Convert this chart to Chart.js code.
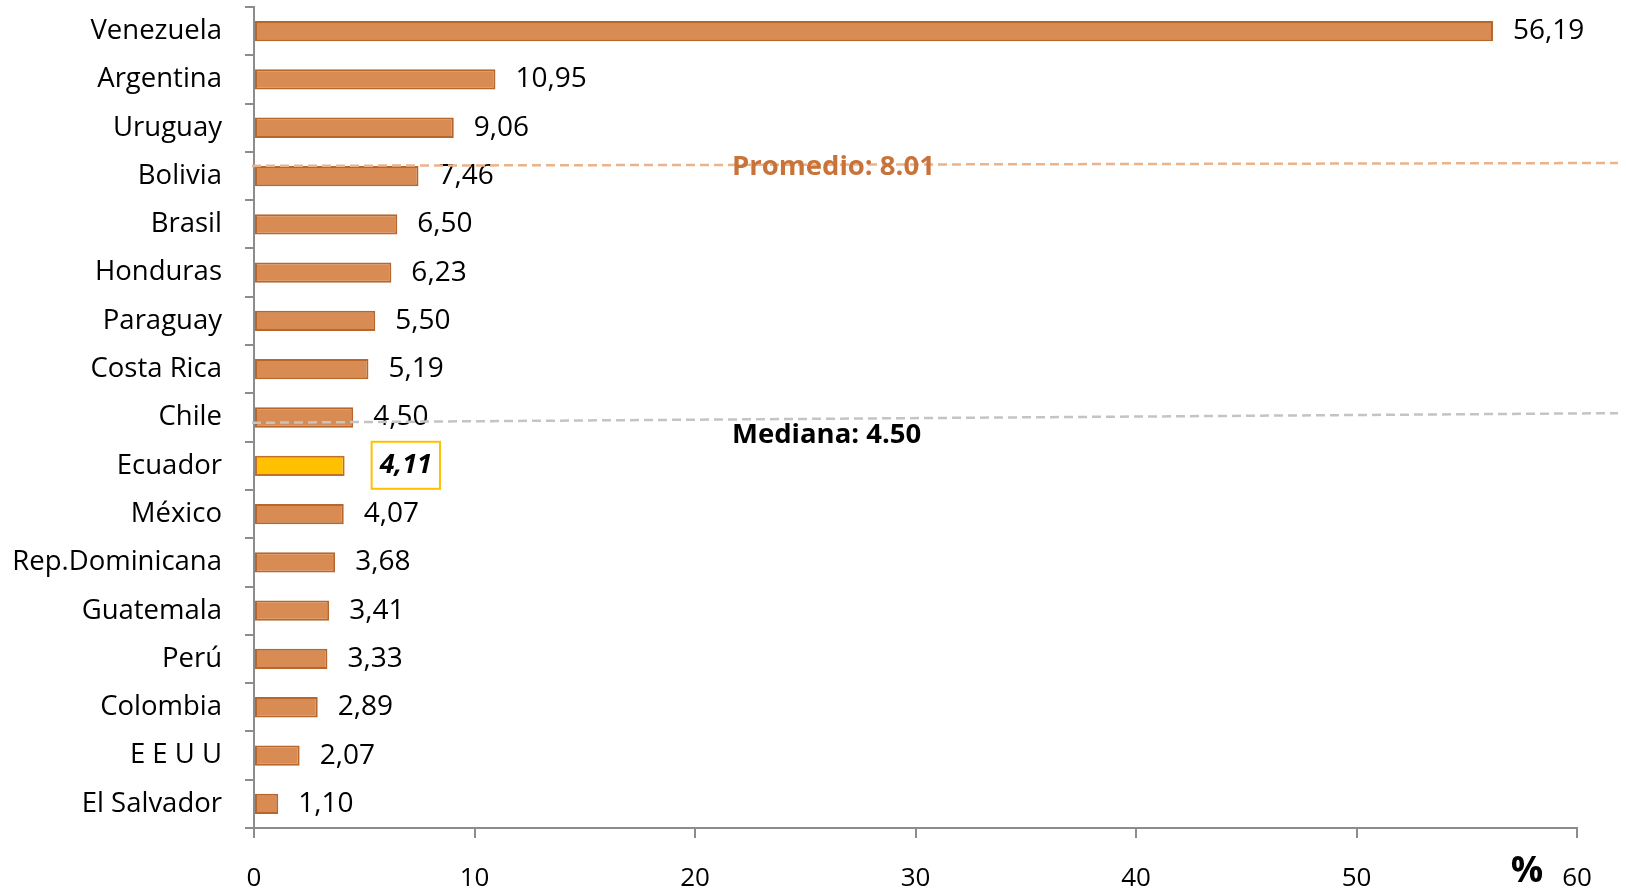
<!DOCTYPE html>
<html>
<head>
<meta charset="utf-8">
<script src="https://cdn.jsdelivr.net/npm/chart.js"></script>
<style>
  html, body { margin: 0; padding: 0; background: #fff; }
  #wrap { width: 1626px; height: 891px; }
</style>
</head>
<body>
<div id="wrap"><canvas id="grafico" width="1626" height="891"></canvas></div>
<script>
const paises = ["Venezuela", "Argentina", "Uruguay", "Bolivia", "Brasil", "Honduras", "Paraguay",
  "Costa Rica", "Chile", "Ecuador", "México", "Rep.Dominicana", "Guatemala", "Perú", "Colombia",
  "E E U U", "El Salvador"];
const inflacion = [56.19, 10.95, 9.06, 7.46, 6.50, 6.23, 5.50, 5.19, 4.50, 4.11, 4.07, 3.68, 3.41,
  3.33, 2.89, 2.07, 1.10];
const destacado = "Ecuador";
const ticksX = [0, 10, 20, 30, 40, 50, 60];

// lineas de referencia: texto y posicion (indice de categoria) en extremo izq / der
const promedio = { texto: "Promedio: 8.01", izq: 2.79, der: 2.73 };
const mediana = { texto: "Mediana: 4.50", izq: 8.11, der: 7.91 };

const FONT = "'Open Sans', sans-serif";
const naranja = "#D88B52";
const borde = "#B8662C";

const fmt = v => v.toFixed(2).replace(".", ",");

const extras = {
  id: "extras",
  afterDatasetsDraw(chart) {
    const ctx = chart.ctx;
    const y = chart.scales.y;
    const a = chart.chartArea;
    const meta = chart.getDatasetMeta(0);

    // etiquetas de valor
    ctx.save();
    ctx.textBaseline = "middle";
    meta.data.forEach((bar, i) => {
      const txt = fmt(inflacion[i]);
      if (paises[i] === destacado) {
        ctx.font = "italic bold 27px " + FONT;
        const w = ctx.measureText(txt).width;
        const bx = bar.x + 27, by = bar.y - 24;
        ctx.fillStyle = "#fff";
        ctx.fillRect(bx, by, w + 16, 47);
        ctx.strokeStyle = "#FFC000";
        ctx.lineWidth = 2;
        ctx.strokeRect(bx, by, w + 16, 47);
        ctx.fillStyle = "#000";
        ctx.textAlign = "left";
        ctx.fillText(txt, bx + 8, bar.y);
      } else {
        ctx.font = "28px " + FONT;
        ctx.fillStyle = "#000";
        ctx.textAlign = "left";
        ctx.fillText(txt, bar.x + 20, bar.y);
      }
    });

    // lineas de promedio y mediana
    const linea = (ref, color) => {
      ctx.beginPath();
      ctx.setLineDash([9, 5]);
      ctx.lineWidth = 2.5;
      ctx.strokeStyle = color;
      ctx.moveTo(a.left - 2, y.getPixelForValue(ref.izq));
      ctx.lineTo(chart.width - 8, y.getPixelForValue(ref.der));
      ctx.stroke();
      ctx.setLineDash([]);
    };
    linea(promedio, "#EBB38A");
    linea(mediana, "#C4C4C4");

    ctx.font = "bold 27.5px " + FONT;
    ctx.textAlign = "left";
    ctx.fillStyle = "#C8733A";
    ctx.fillText(promedio.texto, 732, y.getPixelForValue(promedio.izq) + 1);
    ctx.fillStyle = "#000";
    ctx.fillText(mediana.texto, 732, y.getPixelForValue(mediana.izq) + 12);

    // unidad del eje
    ctx.font = "bold 36px " + FONT;
    ctx.textAlign = "center";
    ctx.fillText("%", a.right - 50, a.bottom + 44);
    ctx.restore();
  }
};

new Chart(document.getElementById("grafico"), {
  type: "bar",
  data: {
    labels: paises,
    datasets: [{
      data: inflacion,
      backgroundColor: paises.map(p => p === destacado ? "#FFC000" : naranja),
      borderColor: paises.map(p => p === destacado ? "#C0702A" : borde),
      borderWidth: 2,
      borderSkipped: false,
      barPercentage: 0.42,
      categoryPercentage: 1
    }]
  },
  plugins: [extras],
  options: {
    indexAxis: "y",
    responsive: false,
    animation: false,
    layout: { padding: { top: 7, right: 49, left: 0, bottom: 0 } },
    plugins: { legend: { display: false }, tooltip: { enabled: false } },
    scales: {
      x: {
        min: 0, max: 60,
        afterBuildTicks: s => { s.ticks = ticksX.map(v => ({ value: v })); },
        afterFit: s => { s.height = 63; s.paddingLeft = 0; s.paddingRight = 0; },
        border: { color: "#8C8C8C", width: 2 },
        grid: { drawOnChartArea: false, drawTicks: true, tickLength: 10, color: "#8C8C8C", lineWidth: 2 },
        ticks: { color: "#000", font: { family: FONT, size: 26 }, padding: 25, maxRotation: 0 }
      },
      y: {
        afterFit: s => { s.width = 254; s.paddingTop = 0; s.paddingBottom = 0; },
        border: { color: "#8C8C8C", width: 2 },
        grid: { offset: true, drawOnChartArea: false, drawTicks: true, tickLength: 9, color: "#8C8C8C", lineWidth: 2 },
        ticks: { color: "#000", font: { family: FONT, size: 27.5 }, padding: 23, autoSkip: false }
      }
    }
  }
});
</script>
</body>
</html>
